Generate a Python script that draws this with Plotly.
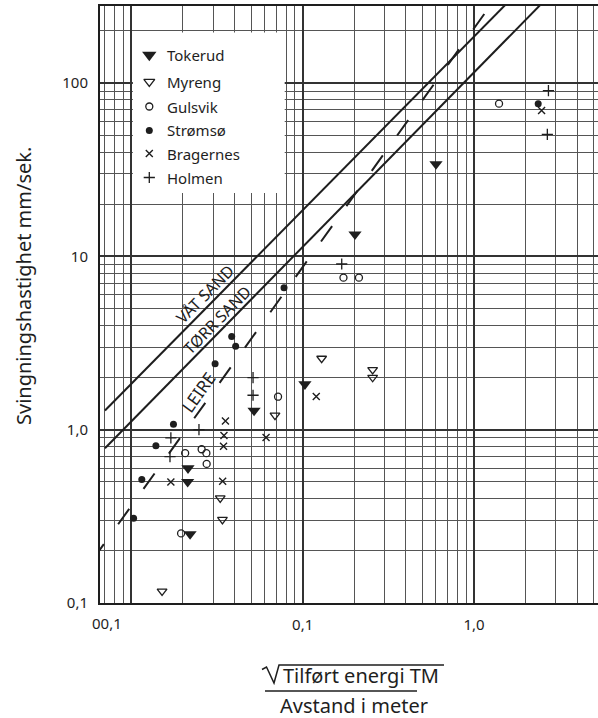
import plotly.graph_objects as go

# x: sqrt(tilført energi, TM) / avstand (m)   y: svingningshastighet (mm/s)
tokerud_x = [0.0214, 0.0213, 0.0220, 0.0520, 0.103, 0.202, 0.600]
tokerud_y = [0.60, 0.50, 0.25, 1.29, 1.83, 13.4, 34.1]

myreng_x = [0.0151, 0.0330, 0.0340, 0.0689, 0.129, 0.256, 0.256]
myreng_y = [0.117, 0.403, 0.303, 1.21, 2.58, 2.22, 2.00]

gulsvik_x = [0.0195, 0.0206, 0.0257, 0.0274, 0.0275, 0.0718, 0.173, 0.213, 1.40]
gulsvik_y = [0.252, 0.732, 0.771, 0.732, 0.635, 1.55, 7.54, 7.54, 76.1]

stromso_x = [0.0103, 0.0115, 0.0139, 0.0176, 0.0308, 0.0385, 0.0406, 0.0778, 2.37]
stromso_y = [0.308, 0.516, 0.807, 1.074, 2.40, 3.45, 3.03, 6.59, 76.1]

bragernes_x = [0.0170, 0.0341, 0.0345, 0.0347, 0.0354, 0.0611, 0.120, 2.48]
bragernes_y = [0.499, 0.504, 0.802, 0.925, 1.124, 0.901, 1.553, 69.5]

holmen_x = [0.0168, 0.0170, 0.0248, 0.0513, 0.0513, 0.169, 2.68, 2.72]
holmen_y = [0.700, 0.896, 1.00, 1.58, 2.00, 9.04, 50.6, 90.5]

# grenselinjer for ulike grunnforhold
vaat_x = [0.00701, 1.552]
vaat_y = [1.29, 288]
torr_x = [0.00701, 2.484]
torr_y = [0.781, 288]
leire_x = [0.00595, 1.303]
leire_y = [0.178, 298]

x_tickvals = [0.01, 0.1, 1]
x_ticktext = ["", "0,1", "1,0"]
y_tickvals = [0.1, 1, 10, 100]
y_ticktext = ["0,1", "1,0", "10", "100"]

legend_names = ["Tokerud", "Myreng", "Gulsvik", "Strømsø", "Bragernes", "Holmen"]

W, H = 598, 718
ML, MR, MT, MB = 100, 0, 6, 115
INK = "#1e1e1e"
FONT = "Noto Sans"


def pxx(x):
    return (x - ML) / (W - ML - MR)


def pxy(y):
    return (H - MB - y) / (H - MT - MB)


fig = go.Figure()

# white backing for the key box
fig.add_trace(go.Scatter(
    x=[0.0102, 0.0785, 0.0785, 0.0102, 0.0102],
    y=[23.2, 23.2, 196, 196, 23.2],
    mode="lines", fill="toself", fillcolor="white",
    line=dict(width=0, color="white"), hoverinfo="skip", showlegend=False,
))

fig.add_trace(go.Scatter(x=vaat_x, y=vaat_y, mode="lines",
                         line=dict(color=INK, width=2), showlegend=False))
fig.add_trace(go.Scatter(x=torr_x, y=torr_y, mode="lines",
                         line=dict(color=INK, width=2), showlegend=False))
fig.add_trace(go.Scatter(x=leire_x, y=leire_y, mode="lines",
                         line=dict(color=INK, width=2, dash="19px,24.5px"),
                         showlegend=False))

styles = {
    "Tokerud": dict(symbol="triangle-down", size=11.5, color=INK, line=dict(width=0)),
    "Myreng": dict(symbol="triangle-down-open", size=8.5, color=INK, line=dict(width=1.3, color=INK)),
    "Gulsvik": dict(symbol="circle-open", size=7, color=INK, line=dict(width=1.3, color=INK)),
    "Strømsø": dict(symbol="circle", size=7, color=INK, line=dict(width=0)),
    "Bragernes": dict(symbol="x-thin", size=7, color=INK, line=dict(width=1.4, color=INK)),
    "Holmen": dict(symbol="cross-thin", size=8, color=INK, line=dict(width=1.3, color=INK)),
}
series = {
    "Tokerud": (tokerud_x, tokerud_y),
    "Myreng": (myreng_x, myreng_y),
    "Gulsvik": (gulsvik_x, gulsvik_y),
    "Strømsø": (stromso_x, stromso_y),
    "Bragernes": (bragernes_x, bragernes_y),
    "Holmen": (holmen_x, holmen_y),
}
for name in legend_names:
    xs, ys = series[name]
    fig.add_trace(go.Scatter(x=xs, y=ys, mode="markers", name=name,
                             marker=styles[name], showlegend=False))

# key: symbols on a pixel-scaled overlay, labels as annotations
key_rows = [55, 81.7, 106.5, 130.5, 153.5, 177.5]
key_sizes = {"Tokerud": 12.5, "Myreng": 9.5}
for name, yk in zip(legend_names, key_rows):
    m = dict(styles[name])
    if name in key_sizes:
        m["size"] = key_sizes[name]
    fig.add_trace(go.Scatter(x=[149.3], y=[yk], mode="markers", marker=m,
                             xaxis="x2", yaxis="y2", showlegend=False,
                             hoverinfo="skip"))
    fig.add_annotation(x=pxx(165), y=pxy(yk), xref="paper", yref="paper",
                       text=name, showarrow=False, xanchor="left",
                       yanchor="middle", font=dict(size=15, color=INK, family=FONT))

# line labels
for text, cx, cy, ang, fs in [("VÅT SAND", 205, 294, -45.4, 16),
                              ("TØRR SAND", 217, 320, -45.5, 16),
                              ("LEIRE", 198, 392, -54.4, 17)]:
    fig.add_annotation(x=pxx(cx), y=pxy(cy), xref="paper", yref="paper",
                       text=text, showarrow=False, textangle=ang,
                       xanchor="center", yanchor="middle",
                       font=dict(size=fs, color=INK, family=FONT))

# lower-left x label
fig.add_annotation(x=pxx(107), y=pxy(623), xref="paper", yref="paper",
                   text="00,1", showarrow=False, xanchor="center", yanchor="middle",
                   font=dict(size=15, color=INK, family=FONT))

# y axis title
fig.add_annotation(x=pxx(23), y=pxy(286), xref="paper", yref="paper",
                   text="Svingningshastighet mm/sek.", showarrow=False,
                   textangle=-90, xanchor="center", yanchor="middle",
                   font=dict(size=20, color=INK, family=FONT))

# x axis title: sqrt(energy) over distance
fig.add_annotation(x=pxx(361), y=pxy(676), xref="paper", yref="paper",
                   text="Tilført energi TM", showarrow=False,
                   xanchor="center", yanchor="middle",
                   font=dict(size=20, color=INK, family=FONT))
fig.add_annotation(x=pxx(353.5), y=pxy(706), xref="paper", yref="paper",
                   text="Avstand i meter", showarrow=False,
                   xanchor="center", yanchor="middle",
                   font=dict(size=20, color=INK, family=FONT))

root = [(262, 669.5), (266.5, 667), (274, 683), (279, 665), (444, 665)]
path = "M " + " L ".join(f"{pxx(a):.5f},{pxy(b):.5f}" for a, b in root)
fig.add_shape(type="path", path=path, xref="paper", yref="paper",
              line=dict(color=INK, width=1.5))
fig.add_shape(type="line", x0=pxx(265), x1=pxx(417), y0=pxy(691), y1=pxy(691),
              xref="paper", yref="paper", line=dict(color=INK, width=1.6))

fig.update_layout(
    width=W, height=H,
    margin=dict(l=ML, r=MR, t=MT, b=MB),
    paper_bgcolor="white", plot_bgcolor="white",
    showlegend=False,
    font=dict(family=FONT, color=INK),
    xaxis=dict(
        type="log", range=[-2.1833, 0.7239],
        tickmode="array", tickvals=x_tickvals, ticktext=x_ticktext,
        ticks="", ticklabelstandoff=7, tickfont=dict(size=15, color=INK),
        showgrid=True, gridcolor="#333333", gridwidth=1.8,
        minor=dict(dtick="D1", showgrid=True, gridcolor="#555555", gridwidth=1),
        showline=True, linecolor=INK, linewidth=2, mirror=True,
        zeroline=False,
    ),
    yaxis=dict(
        type="log", range=[-1.0, 2.4449],
        tickmode="array", tickvals=y_tickvals, ticktext=y_ticktext,
        ticks="", ticklabelstandoff=7, tickfont=dict(size=15, color=INK),
        showgrid=True, gridcolor="#333333", gridwidth=1.8,
        minor=dict(dtick="D1", showgrid=True, gridcolor="#555555", gridwidth=1),
        showline=True, linecolor=INK, linewidth=2, mirror=False,
        zeroline=False,
    ),
    xaxis2=dict(overlaying="x", range=[ML, W - MR], visible=False, fixedrange=True),
    yaxis2=dict(overlaying="y", range=[H - MB, MT], visible=False, fixedrange=True),
)

fig.write_html("out.html")
